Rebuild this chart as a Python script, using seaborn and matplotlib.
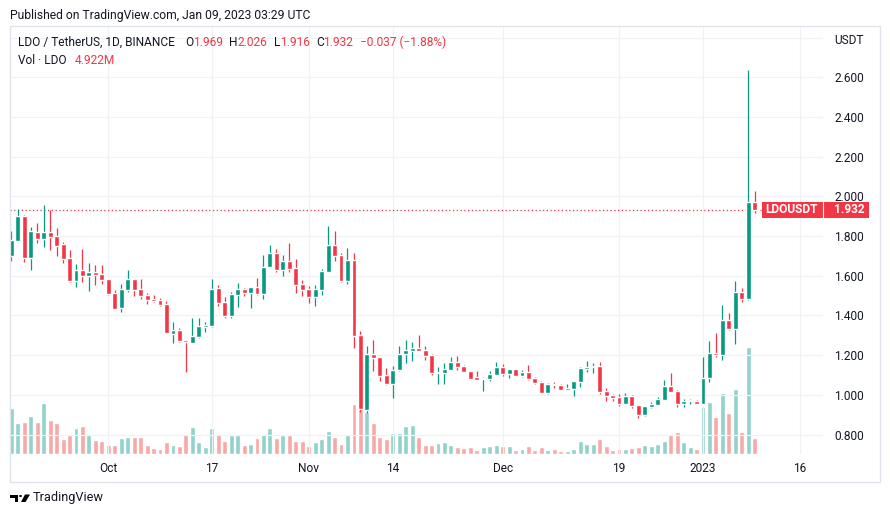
import matplotlib
matplotlib.use("Agg")
import matplotlib.pyplot as plt
import matplotlib.dates as mdates
from matplotlib.patches import Rectangle, Polygon, Circle
import pandas as pd
import seaborn as sns

# LDO / USDT daily candles, 16 Sep 2022 .. 09 Jan 2023
dates = pd.date_range("2022-09-16", "2023-01-09", freq="D")

opens = [
    1.701, 1.777, 1.901, 1.691, 1.820, 1.787, 1.820, 1.800, 1.761, 1.688,
    1.575, 1.629, 1.600, 1.619, 1.609, 1.583, 1.513, 1.439, 1.530, 1.583,
    1.533, 1.503, 1.484, 1.478, 1.457, 1.308, 1.327, 1.276, 1.263, 1.293,
    1.343, 1.348, 1.538, 1.466, 1.397, 1.503, 1.533, 1.513, 1.543, 1.510,
    1.644, 1.714, 1.629, 1.674, 1.639, 1.558, 1.533, 1.493, 1.528, 1.619,
    1.755, 1.704, 1.573, 1.679, 1.301, 0.923, 1.206, 1.190, 1.100, 1.054,
    1.123, 1.207, 1.222, 1.236, 1.226, 1.200, 1.112, 1.111, 1.126, 1.165,
    1.145, 1.120, 1.090, 1.080, 1.080, 1.100, 1.140, 1.105, 1.130, 1.095,
    1.115, 1.085, 1.064, 1.011, 1.054, 1.049, 1.026, 1.031, 1.066, 1.130,
    1.139, 1.145, 1.019, 0.999, 0.989, 0.955, 0.996, 0.949, 0.900, 0.940,
    0.950, 0.975, 1.044, 1.019, 0.955, 0.969, 0.970, 0.955, 1.083, 1.210,
    1.200, 1.377, 1.333, 1.518, 1.485, 1.969,
]
highs = [
    1.825, 1.934, 1.905, 1.847, 1.867, 1.956, 1.931, 1.840, 1.772, 1.730,
    1.659, 1.735, 1.666, 1.654, 1.654, 1.585, 1.528, 1.558, 1.629, 1.585,
    1.583, 1.515, 1.503, 1.488, 1.473, 1.367, 1.337, 1.278, 1.389, 1.389,
    1.368, 1.583, 1.553, 1.491, 1.518, 1.563, 1.538, 1.543, 1.588, 1.704,
    1.755, 1.735, 1.704, 1.765, 1.684, 1.578, 1.548, 1.553, 1.634, 1.850,
    1.825, 1.714, 1.740, 1.714, 1.321, 1.246, 1.276, 1.192, 1.133, 1.145,
    1.246, 1.276, 1.266, 1.301, 1.246, 1.207, 1.142, 1.162, 1.189, 1.195,
    1.150, 1.121, 1.120, 1.090, 1.120, 1.165, 1.155, 1.130, 1.131, 1.125,
    1.150, 1.090, 1.070, 1.059, 1.064, 1.056, 1.056, 1.072, 1.142, 1.169,
    1.162, 1.165, 1.034, 1.004, 1.004, 1.011, 0.997, 0.950, 0.945, 0.964,
    0.989, 1.075, 1.110, 1.024, 0.979, 0.979, 0.974, 1.190, 1.271, 1.313,
    1.453, 1.410, 1.574, 1.540, 2.634, 2.026,
]
lows = [
    1.674, 1.775, 1.671, 1.629, 1.766, 1.746, 1.730, 1.701, 1.666, 1.570,
    1.545, 1.570, 1.525, 1.555, 1.560, 1.504, 1.432, 1.419, 1.520, 1.499,
    1.484, 1.459, 1.469, 1.449, 1.311, 1.263, 1.268, 1.117, 1.261, 1.288,
    1.318, 1.343, 1.449, 1.387, 1.387, 1.442, 1.498, 1.437, 1.503, 1.483,
    1.642, 1.619, 1.599, 1.619, 1.513, 1.498, 1.462, 1.447, 1.503, 1.617,
    1.674, 1.568, 1.558, 1.236, 0.915, 0.910, 1.120, 1.070, 1.049, 0.986,
    1.120, 1.162, 1.172, 1.220, 1.177, 1.100, 1.054, 1.054, 1.125, 1.125,
    1.115, 1.078, 1.073, 1.019, 1.070, 1.100, 1.095, 1.085, 1.094, 1.090,
    1.075, 1.054, 1.010, 1.006, 1.034, 1.025, 1.025, 0.996, 1.041, 1.115,
    1.112, 1.006, 0.971, 0.971, 0.945, 0.953, 0.935, 0.885, 0.895, 0.935,
    0.947, 0.974, 1.014, 0.939, 0.940, 0.955, 0.954, 0.953, 1.064, 1.192,
    1.178, 1.326, 1.257, 1.469, 1.476, 1.916,
]
closes = [
    1.780, 1.901, 1.691, 1.825, 1.787, 1.820, 1.797, 1.751, 1.686, 1.575,
    1.629, 1.600, 1.619, 1.605, 1.580, 1.510, 1.434, 1.533, 1.583, 1.530,
    1.499, 1.479, 1.474, 1.454, 1.313, 1.327, 1.273, 1.268, 1.296, 1.347,
    1.352, 1.533, 1.464, 1.397, 1.508, 1.533, 1.513, 1.543, 1.508, 1.644,
    1.714, 1.629, 1.674, 1.634, 1.553, 1.528, 1.493, 1.533, 1.624, 1.755,
    1.699, 1.573, 1.679, 1.296, 0.929, 1.206, 1.187, 1.096, 1.054, 1.123,
    1.206, 1.226, 1.236, 1.222, 1.197, 1.111, 1.117, 1.130, 1.165, 1.142,
    1.115, 1.080, 1.075, 1.085, 1.105, 1.140, 1.105, 1.130, 1.095, 1.115,
    1.080, 1.059, 1.011, 1.054, 1.048, 1.026, 1.034, 1.070, 1.135, 1.142,
    1.147, 1.016, 0.996, 0.986, 0.955, 0.996, 0.944, 0.900, 0.944, 0.954,
    0.979, 1.044, 1.016, 0.955, 0.970, 0.973, 0.955, 1.083, 1.212, 1.200,
    1.377, 1.330, 1.518, 1.485, 1.969, 1.932,
]
# volume in millions of LDO
volumes = [
    14.26, 9.50, 9.81, 11.67, 9.81, 15.70, 10.43, 9.50, 4.65, 5.78,
    7.95, 8.57, 5.78, 4.24, 3.93, 2.69, 2.69, 4.86, 5.17, 5.17,
    5.17, 2.69, 1.76, 1.45, 3.62, 2.69, 2.38, 6.09, 8.26, 3.62,
    2.07, 7.95, 6.09, 3.93, 5.78, 5.78, 2.69, 3.00, 4.86, 6.09,
    7.95, 4.86, 5.78, 5.78, 3.93, 3.93, 2.38, 3.62, 4.55, 7.02,
    5.17, 3.00, 5.78, 15.39, 14.40, 12.90, 9.50, 5.17, 4.55, 6.40,
    6.40, 8.57, 8.88, 5.17, 2.69, 2.69, 3.31, 3.62, 2.69, 2.07,
    1.76, 2.07, 1.14, 2.07, 2.38, 2.69, 2.38, 2.38, 1.14, 1.45,
    2.38, 1.14, 2.07, 1.14, 1.45, 0.83, 0.83, 1.45, 3.93, 3.00,
    3.00, 4.55, 2.38, 1.14, 1.45, 1.45, 1.76, 2.07, 2.69, 2.38,
    3.00, 3.93, 6.09, 6.71, 3.62, 2.07, 1.45, 14.46, 16.05, 11.38,
    18.90, 12.65, 20.00, 6.71, 33.10, 4.922,
]

tick_dates = ["2022-10-01", "2022-10-17", "2022-11-01", "2022-11-14",
              "2022-12-01", "2022-12-19", "2023-01-01", "2023-01-16"]
tick_labels = ["Oct", "17", "Nov", "14", "Dec", "19", "2023", "16"]
price_ticks = [0.8, 1.0, 1.2, 1.4, 1.6, 1.8, 2.0, 2.2, 2.4, 2.6, 2.8]

UP, DOWN = "#089981", "#f23645"
VOL_UP, VOL_DOWN = "#92d2cc", "#f7a9a7"
TEXT = "#131722"
GRID = "#f0f2f6"

W, H = 890, 517


def fx(x):
    return x / W


def fy(y):
    return 1 - y / H


sns.set_theme(style="white")
plt.rcParams["font.family"] = ["Roboto", "DejaVu Sans"]

df = pd.DataFrame({"date": dates, "open": opens, "high": highs,
                   "low": lows, "close": closes, "volume": volumes})
df["x"] = mdates.date2num(df["date"])
df["direction"] = ["up" if c >= o else "down" for o, c in zip(df["open"], df["close"])]

fig = plt.figure(figsize=(W / 100, H / 100), dpi=100)
fig.patch.set_facecolor("white")
rect = [fx(10), fy(454), fx(823) - fx(10), (454 - 26) / H]
ax_vol = fig.add_axes(rect)
ax = fig.add_axes(rect, sharex=ax_vol)
ax.patch.set_alpha(0)

# volume histogram in its own pane scale
sns.barplot(data=df, x="x", y="volume", hue="direction",
            palette={"up": VOL_UP, "down": VOL_DOWN}, native_scale=True,
            width=0.76, dodge=False, saturation=1, errorbar=None,
            legend=False, ax=ax_vol)
ax_vol.set_ylim(0, df["volume"].max() * 4.0)
ax_vol.set_axis_off()

# candles
cols = [UP if d == "up" else DOWN for d in df["direction"]]
ax.vlines(df["x"], df["low"], df["high"], colors=cols, lw=0.9, zorder=3)
body_lo = df[["open", "close"]].min(axis=1)
body_h = (df["close"] - df["open"]).abs().clip(lower=0.004)
ax.bar(df["x"], body_h, bottom=body_lo, width=0.76, color=cols, zorder=4)

oct1 = mdates.date2num(pd.Timestamp("2022-10-01"))
ax.set_xlim(oct1 - 15.21, oct1 + 110.56)
ax.set_ylim(0.702, 2.858)

ax.set_xticks(mdates.date2num(pd.to_datetime(tick_dates)))
ax.set_xticklabels(tick_labels)
ax.set_yticks(price_ticks)
ax.set_yticklabels([f"{p:.3f}" if p < 2.7 else "" for p in price_ticks])
ax.yaxis.tick_right()
ax.tick_params(axis="y", length=0, pad=8, labelsize=8.6, labelcolor=TEXT)
ax.tick_params(axis="x", length=0, pad=6, labelsize=8.6, labelcolor=TEXT)
ax.grid(True, color=GRID, lw=0.9)
ax.set_axisbelow(True)
for s in ax.spines.values():
    s.set_visible(False)
ax.set_xlabel("")
ax.set_ylabel("")

# last price dotted line and label
last = closes[-1]
ax.axhline(last, xmax=(762 - 10) / 813, color=DOWN, ls=(0, (1, 2)), lw=0.9, zorder=2)
fig.canvas.draw()
_, yc = fig.transFigure.inverted().transform(ax.transData.transform((oct1, last)))
box_h = 16 / H
fig.add_artist(Rectangle((fx(762), yc - box_h / 2), (869 - 762) / W, box_h,
                         transform=fig.transFigure, color=DOWN, lw=0))
fig.add_artist(plt.Line2D([fx(823), fx(823)], [yc - box_h / 2, yc + box_h / 2],
                          transform=fig.transFigure, color="white", lw=0.8))
fig.text(fx(792), yc, "LDOUSDT", color="white", fontsize=8.6,
         fontweight="bold", ha="center", va="center")
fig.text(fx(849), yc, f"{last:.3f}", color="white", fontsize=8.6,
         fontweight="bold", ha="center", va="center")

# frame and header texts
fig.add_artist(Rectangle((fx(9.5), fy(481.5)), (880 - 9.5) / W, (481.5 - 26) / H,
                         transform=fig.transFigure, fill=False, ec="#e0e3eb", lw=1))
fig.text(fx(10), fy(15), "Published on TradingView.com, Jan 09, 2023 03:29 UTC",
         fontsize=8.7, color=TEXT, ha="left", va="center")
fig.text(fx(834), fy(41), "USDT", fontsize=8.6, color=TEXT, ha="left", va="center")

chg = closes[-1] - closes[-2]
pct = chg / closes[-2] * 100
legend_parts = [
    ("LDO / TetherUS, 1D, BINANCE", 18, TEXT),
    ("O", 185, TEXT), (f"{opens[-1]:.3f}", 193, DOWN),
    ("H", 229, TEXT), (f"{highs[-1]:.3f}", 237, DOWN),
    ("L", 274, TEXT), (f"{lows[-1]:.3f}", 280, DOWN),
    ("C", 316, TEXT), (f"{closes[-1]:.3f}", 323, DOWN),
    (f"{chg:+.3f} ({pct:+.2f}%)".replace("-", "\u2212"), 360, DOWN),
]
for txt, x, c in legend_parts:
    fig.text(fx(x), fy(42), txt, fontsize=8.6, color=c, ha="left", va="center")
fig.text(fx(18), fy(60), "Vol \u00b7 LDO", fontsize=8.6, color=TEXT, ha="left", va="center")
fig.text(fx(75), fy(60), f"{volumes[-1]:.3f}M", fontsize=8.6, color=DOWN,
         ha="left", va="center")

# TradingView logo
def px_poly(pts):
    return [(fx(a), fy(b)) for a, b in pts]


fig.add_artist(Polygon(px_poly([(10, 494.5), (18, 494.5), (18, 502), (14.5, 502),
                                (14.5, 497.5), (10, 497.5)]),
                       transform=fig.transFigure, color="black", lw=0))
fig.add_artist(Circle((fx(20.5), fy(496)), 1.6 / W, transform=fig.transFigure,
                      color="black", lw=0))
fig.add_artist(Polygon(px_poly([(25, 494.5), (30, 494.5), (25.5, 502), (21, 502)]),
                       transform=fig.transFigure, color="black", lw=0))
fig.text(fx(33), fy(498), "TradingView", fontsize=9.2, color=TEXT, ha="left", va="center")

fig.savefig("out.png", dpi=100, facecolor="white")
